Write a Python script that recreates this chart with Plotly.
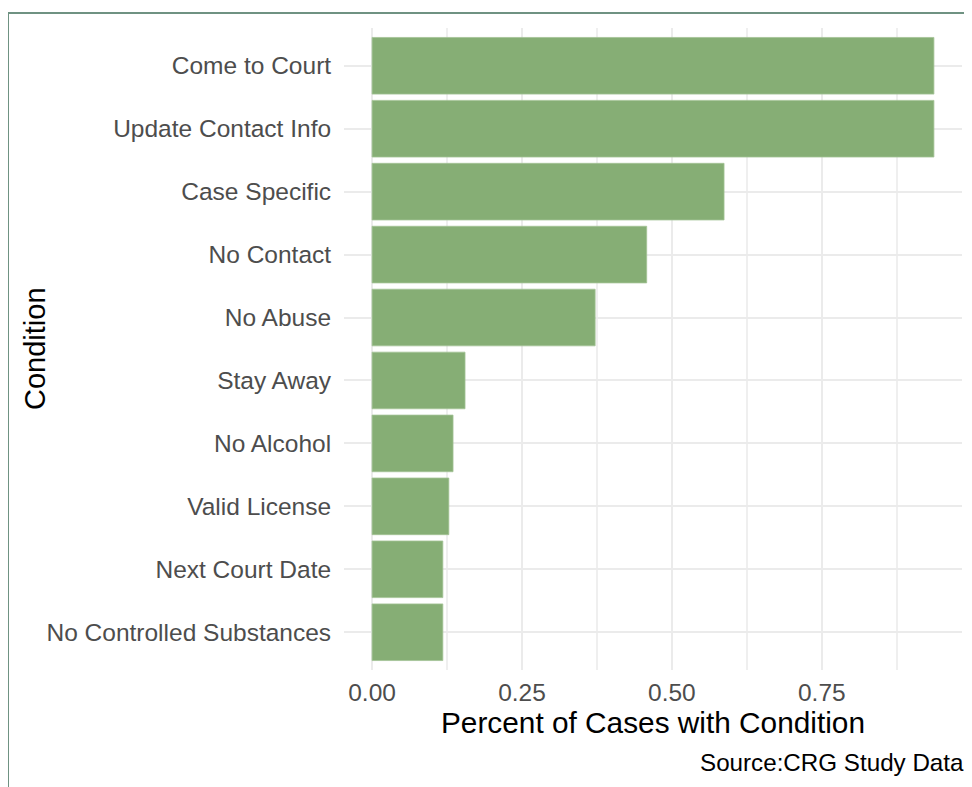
import plotly.graph_objects as go

conditions = ["Come to Court", "Update Contact Info", "Case Specific", "No Contact",
              "No Abuse", "Stay Away", "No Alcohol", "Valid License",
              "Next Court Date", "No Controlled Substances"]
percent = [0.937, 0.937, 0.587, 0.458, 0.372, 0.155, 0.135, 0.128, 0.118, 0.118]
x_ticks = [0.0, 0.25, 0.50, 0.75]
x_tick_labels = ["0.00", "0.25", "0.50", "0.75"]

BAR = "#86AE75"
GRID = "#EBEBEB"
FONT = "Liberation Sans, Arial, sans-serif"

xmax = max(percent)
n = len(conditions)

# plot area in figure pixels
L, R, T, B = 336, 954, 20, 662
PW, PH = R - L, B - T

fig = go.Figure(go.Bar(
    x=percent, y=conditions, orientation="h",
    marker=dict(color=BAR, line=dict(width=0.8, color="#A3C396")), width=0.9,
))

fig.update_layout(
    width=972, height=787,
    margin=dict(l=L, r=972 - R, t=T, b=787 - B),
    paper_bgcolor="white", plot_bgcolor="white",
    font=dict(family=FONT, color="#4D4D4D"),
    showlegend=False,
    xaxis=dict(
        range=[-0.05 * xmax, 1.05 * xmax],
        tickvals=x_ticks, ticktext=x_tick_labels,
        showgrid=True, gridcolor=GRID, gridwidth=1.8,
        zeroline=False, showline=False,
        ticks="outside", ticklen=1, tickcolor="rgba(0,0,0,0)",
        tickfont=dict(size=24.5, color="#4D4D4D", family=FONT),
        minor=dict(dtick=0.125, tick0=0.125, showgrid=True, gridcolor="#EFEFEF", gridwidth=1.6, ticks=""),
    ),
    yaxis=dict(
        categoryorder="array", categoryarray=conditions,
        range=[n - 1 + 0.6, -0.6],
        showgrid=True, gridcolor=GRID, gridwidth=1.8,
        zeroline=False, showline=False,
        ticks="outside", ticklen=7, tickcolor="rgba(0,0,0,0)",
        tickfont=dict(size=24.5, color="#4D4D4D", family=FONT),
    ),
    annotations=[
        dict(text="Percent of Cases with Condition", xref="paper", yref="paper",
             x=0.5, y=(B - 714) / PH, xanchor="center", yanchor="middle", showarrow=False,
             font=dict(size=29.8, color="black", family=FONT)),
        dict(text="Condition", xref="paper", yref="paper",
             x=(27 - L) / PW, y=0.5, xanchor="center", yanchor="middle", showarrow=False,
             textangle=-90, font=dict(size=29, color="black", family=FONT)),
        dict(text="Source:CRG Study Data", xref="paper", yref="paper",
             x=1.0, y=(B - 754) / PH, xanchor="right", yanchor="middle", showarrow=False,
             xshift=4, font=dict(size=24.2, color="black", family=FONT)),
    ],
    shapes=[
        dict(type="rect", xref="paper", yref="paper",
             x0=(0 - L) / PW, x1=(990 - L) / PW,
             y0=(B - 800) / PH, y1=(B - 5) / PH,
             line=dict(color="#6F9282", width=2), fillcolor="rgba(0,0,0,0)", layer="below"),
    ],
)

fig.write_html("out.html")
